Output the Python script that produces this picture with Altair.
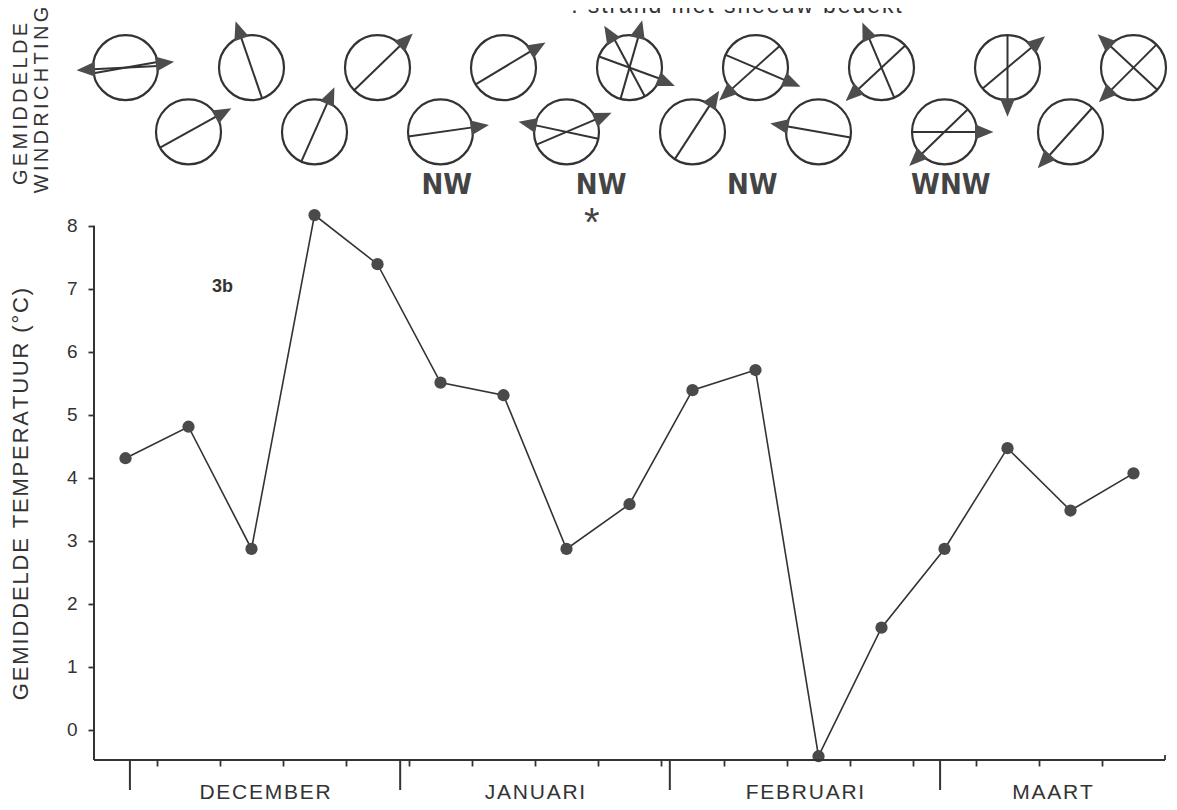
import math
import altair as alt
import pandas as pd

# ------------------------------------------------------------------ data
# weekly mean temperature (deg C), 17 weeks from end of November to March
temps = [4.31, 4.81, 2.87, 8.17, 7.39, 5.51, 5.31, 2.87, 3.58,
         5.39, 5.71, -0.42, 1.62, 2.87, 4.47, 3.48, 4.07]

# wind directions per week: diameters drawn in each wind rose (degrees,
# counter-clockwise from east) and arrow heads (direction the arrow points)
wind_lines = [[3, 10], [29], [109], [66], [44], [8], [31], [-12, 23],
              [-20, 118, 74], [57], [-23, 42], [-10], [-67, 43], [0, 44],
              [90, 40], [48], [-43, 45]]
wind_arrows = [[183, 7], [29], [109], [66], [44], [8], [31], [168, 23],
               [121, 75, -22], [57], [222, -23], [170], [113, 223],
               [0, 224], [270, 40], [228], [137, 225]]

dir_labels = ["NW", "NW", "NW", "WNW"]
dir_label_week = [5.6, 8.05, 10.45, 13.6]
snow_week = [7.9]

months = ["DECEMBER", "JANUARI", "FEBRUARI", "MAART"]
month_start_week = [0.57, 4.86, 9.14, 13.43]
y_tick_values = [0, 1, 2, 3, 4, 5, 6, 7, 8]
n_weeks = 17

# ------------------------------------------------------------------ layout
PX = 63.0                    # pixels per week and per degree
W = int(n_weeks * PX)        # 1071
H = 752
YMIN = -0.48
YMAX = YMIN + H / PX
ROW_T = [10.51, 9.49]        # rose rows (in temperature units)
LABEL_T = 8.65
STAR_T = 7.84
R = 32.5 / PX                # rose radius in data units

INK = "#333333"
DOT = "#4a4a4a"
ARROW = "#4d4d4d"
FONT = "Liberation Sans"
NARROW = "Liberation Sans Narrow, DejaVu Sans Condensed, Liberation Sans"


def track(s, sep="\u200a"):
    return sep.join(s)


XS = alt.Scale(domain=[0, n_weeks], nice=False, zero=False)
YS = alt.Scale(domain=[YMIN, YMAX], nice=False, zero=False)
AX_X = alt.Axis(values=list(range(1, n_weeks)), domain=False, grid=False,
                labels=False, tickSize=6, tickWidth=1.8, tickColor=INK,
                title=None)
AX_Y = alt.Axis(values=y_tick_values, domain=False, grid=False, tickSize=6,
                tickWidth=1.8, tickColor=INK, labelFontSize=19,
                labelColor=INK, labelFont=FONT, labelPadding=11, title=None)


def X(f):
    return alt.X(f, scale=XS, axis=AX_X)


def Y(f):
    return alt.Y(f, scale=YS, axis=AX_Y)


# ------------------------------------------------------------------ frames
temp_df = pd.DataFrame({"x": [i + 0.5 for i in range(n_weeks)], "y": temps})

centers = pd.DataFrame({
    "x": [i + 0.5 for i in range(n_weeks)],
    "y": [ROW_T[i % 2] for i in range(n_weeks)],
})

line_rows, arrow_rows = [], []
for i in range(n_weeks):
    cx, cy = i + 0.5, ROW_T[i % 2]
    for a in wind_lines[i]:
        r = math.radians(a)
        line_rows.append({"x": cx + R * math.cos(r), "x2": cx - R * math.cos(r),
                          "y": cy + R * math.sin(r), "y2": cy - R * math.sin(r)})
    for a in wind_arrows[i]:
        r = math.radians(a)
        arrow_rows.append({"x": cx + R * math.cos(r), "y": cy + R * math.sin(r),
                           "rot": (90 - a) % 360})
lines_df = pd.DataFrame(line_rows)
arrows_df = pd.DataFrame(arrow_rows)

labels_df = pd.DataFrame({"x": dir_label_week, "y": [LABEL_T] * len(dir_labels),
                          "t": dir_labels})
star_df = pd.DataFrame({"x": snow_week, "y": [STAR_T], "t": ["*"]})

bounds = month_start_week + [n_weeks]
month_df = pd.DataFrame({
    "start": month_start_week,
    "mid": [(bounds[k] + bounds[k + 1]) / 2 for k in range(len(months))],
    "name": [track(m) for m in months],
})

yaxis_df = pd.DataFrame({"x": [0], "y": [YMIN], "y2": [max(y_tick_values)]})
xaxis_df = pd.DataFrame({"x": [0], "x2": [n_weeks], "y": [YMIN]})
end_df = pd.DataFrame({"x": [n_weeks]})
one = pd.DataFrame({"a": [0]})

# ------------------------------------------------------------------ layers
temp_line = alt.Chart(temp_df).mark_line(color=INK, strokeWidth=1.6).encode(
    x=X("x:Q"), y=Y("y:Q"))
temp_pts = alt.Chart(temp_df).mark_circle(size=150, color=DOT, opacity=1).encode(
    x=X("x:Q"), y=Y("y:Q"))

roses = alt.Chart(centers).mark_point(
    shape="circle", size=4225, filled=False, color=INK, strokeWidth=2.2,
    opacity=1).encode(x=X("x:Q"), y=Y("y:Q"))
rose_lines = alt.Chart(lines_df).mark_rule(color=INK, strokeWidth=2).encode(
    x=X("x:Q"), x2="x2:Q", y=Y("y:Q"), y2="y2:Q")
arrows = alt.Chart(arrows_df).mark_point(
    shape="M-0.46,0.12L0.46,0.12L0,-1Z", size=1089, filled=True, color=ARROW,
    opacity=1, strokeWidth=0).encode(
    x=X("x:Q"), y=Y("y:Q"), angle=alt.Angle("rot:Q", scale=None))

dir_text = alt.Chart(labels_df).mark_text(
    font=NARROW, fontWeight="bold", fontSize=29, color="#444444",
    baseline="middle", align="center").encode(
    x=X("x:Q"), y=Y("y:Q"), text="t:N")
star_text = alt.Chart(star_df).mark_text(
    font=FONT, fontSize=40, color="#444444", baseline="alphabetic",
    align="center").encode(x=X("x:Q"), y=Y("y:Q"), text="t:N")

y_axis_line = alt.Chart(yaxis_df).mark_rule(color=INK, strokeWidth=2).encode(
    x=X("x:Q"), y=Y("y:Q"), y2="y2:Q")
x_axis_line = alt.Chart(xaxis_df).mark_rule(color=INK, strokeWidth=2).encode(
    x=X("x:Q"), x2="x2:Q", y=Y("y:Q"))
month_ticks = alt.Chart(month_df).mark_rule(color=INK, strokeWidth=2).encode(
    x=X("start:Q"), y=alt.value(H), y2=alt.value(H + 30))
end_tick = alt.Chart(end_df).mark_rule(color=INK, strokeWidth=1.8).encode(
    x=X("x:Q"), y=alt.value(H), y2=alt.value(H - 5))
month_text = alt.Chart(month_df).mark_text(
    font=FONT, fontSize=21, color=INK, baseline="middle", align="center").encode(
    x=X("mid:Q"), y=alt.value(H + 33), text="name:N")

tag = alt.Chart(one).mark_text(
    text="3b", font=FONT, fontSize=18, fontWeight="bold", color=INK,
    align="left", baseline="alphabetic").encode(x=alt.value(118), y=alt.value(284))
y_title = alt.Chart(one).mark_text(
    text=track("GEMIDDELDE TEMPERATUUR (°C)"), font=FONT, fontSize=22,
    color=INK, angle=270, align="center", baseline="middle").encode(
    x=alt.value(-73), y=alt.value(486))
w_title1 = alt.Chart(one).mark_text(
    text=track("GEMIDDELDE", "\u2006"), font=FONT, fontSize=20, color=INK,
    angle=270, align="center", baseline="middle").encode(
    x=alt.value(-73), y=alt.value(96))
w_title2 = alt.Chart(one).mark_text(
    text=track("WINDRICHTING", "\u2006"), font=FONT, fontSize=20, color=INK,
    angle=270, align="center", baseline="middle").encode(
    x=alt.value(-52), y=alt.value(92))
legend = alt.Chart(one).mark_text(
    text=track("* : strand met sneeuw bedekt"), font=FONT, fontSize=23,
    color=INK, align="left", baseline="alphabetic").encode(
    x=alt.value(458), y=alt.value(5))

chart = alt.layer(
    temp_line, temp_pts, roses, rose_lines, arrows, dir_text, star_text,
    y_axis_line, x_axis_line, month_ticks, end_tick, month_text,
    tag, y_title, w_title1, w_title2, legend,
).properties(
    width=W, height=H,
    padding={"left": 86, "top": 0, "right": 4, "bottom": 48},
    autosize=alt.AutoSizeParams(type="none"),
    background="white",
).configure_view(stroke=None)

chart.save("out.html", embed_options={"renderer": "svg", "actions": False})
